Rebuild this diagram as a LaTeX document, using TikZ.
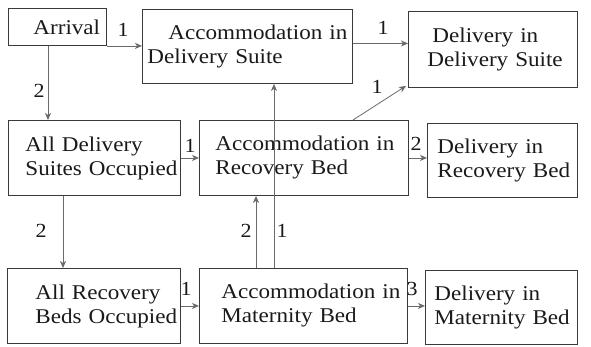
\documentclass[tikz,border=0pt]{standalone}
\usepackage{fontspec}
\setmainfont{Liberation Serif}[FakeStretch=1.1]
\usetikzlibrary{arrows.meta}
\definecolor{boxline}{HTML}{3A3A3A}
\definecolor{arrline}{HTML}{6A6A6A}
\definecolor{txt}{HTML}{1A1A1A}
\tikzset{
  stbox/.style={draw=boxline, line width=0.9pt, anchor=north west, inner ysep=0pt,
    align=left, text=txt, font=\fontsize{21}{24}\selectfont},
  flow/.style={draw=arrline, line width=0.8pt, -{Stealth[length=7pt,width=6pt,inset=2pt]}},
  num/.style={text=txt, font=\fontsize{20}{24}\selectfont, inner sep=0pt}
}
% box: name, x, y, width, height, text offset
\newcommand{\stepbox}[7]{%
  \node[stbox, minimum width=#4pt, minimum height=#5pt, inner xsep=#6pt,
        text width=\dimexpr #4pt - #6pt - #6pt\relax] (#1) at (#2,#3) {#7};}
\begin{document}
\begin{tikzpicture}[x=1pt,y=-1pt]
\useasboundingbox (0,0) rectangle (591,346);
\fill[white] (0,0) rectangle (591,346);
% row 1
\stepbox{arr}{8}{8}{98}{37}{25}{\mbox{Arrival}}
\stepbox{ads}{142}{9}{210}{74}{5}{\mbox{\hspace*{21pt}Accommodation in}\\\mbox{Delivery Suite}}
\stepbox{dds}{408}{11}{169}{76}{19}{\mbox{\hspace*{5pt}Delivery in}\\\mbox{Delivery Suite}}
% row 2
\stepbox{ado}{8}{120}{172}{75}{17}{\mbox{All Delivery}\\\mbox{Suites Occupied}}
\stepbox{arb}{199}{120}{209}{75}{16}{\mbox{Accommodation in}\\\mbox{Recovery Bed}}
\stepbox{drb}{427}{123}{150}{74}{10}{\mbox{Delivery in}\\\mbox{Recovery Bed}}
% row 3
\stepbox{aro}{7}{268}{173}{75}{28}{\mbox{All Recovery}\\\mbox{Beds Occupied}}
\stepbox{amb}{199}{268}{208}{75}{22}{\mbox{Accommodation in}\\\mbox{Maternity Bed}}
\stepbox{dmb}{425}{270}{152}{74}{9}{\mbox{Delivery in}\\\mbox{Maternity Bed}}
% connectors
\draw[flow] (arr.south east) -- (ads.west |- arr.south east);
\draw[flow] ([xshift=40pt]arr.south west) coordinate (a2) -- (a2 |- ado.north);
\draw[flow] ([yshift=3pt]ads.east) coordinate (a3) -- (dds.west |- a3);
\draw[flow] ([xshift=154pt]arb.north west) -- ([xshift=-2pt,yshift=2pt]dds.south west);
\draw[flow] (ado.east) -- (arb.west |- ado.east);
\draw[flow] (arb.east) -- (drb.west |- arb.east);
\draw[flow] ([xshift=55pt]ado.south west) coordinate (a7) -- (a7 |- aro.north);
\draw[flow] (aro.east) -- (amb.west |- aro.east);
\draw[flow] (amb.east) -- (dmb.west |- amb.east);
\draw[flow] ([xshift=57pt]amb.north west) coordinate (a10) -- (a10 |- arb.south);
\draw[flow] ([xshift=75pt]amb.north west) coordinate (a11) -- (a11 |- ads.south);
% labels
\node[num] (l1) at (123,30) {1};
\node[num] (l2) at (39,91) {2};
\node[num] (l3) at (383,28) {1};
\node[num] (l4) at (377,87) {1};
\node[num] (l5) at (190,146) {1};
\node[num] (l6) at (416,144) {2};
\node[num] (l7) at (41,231) {2};
\node[num] (l8) at (186,289) {1};
\node[num] (l9) at (412,289) {3};
\node[num] (l10) at (246,231) {2};
\node[num] (l11) at (282,231) {1};
\end{tikzpicture}
\end{document}
